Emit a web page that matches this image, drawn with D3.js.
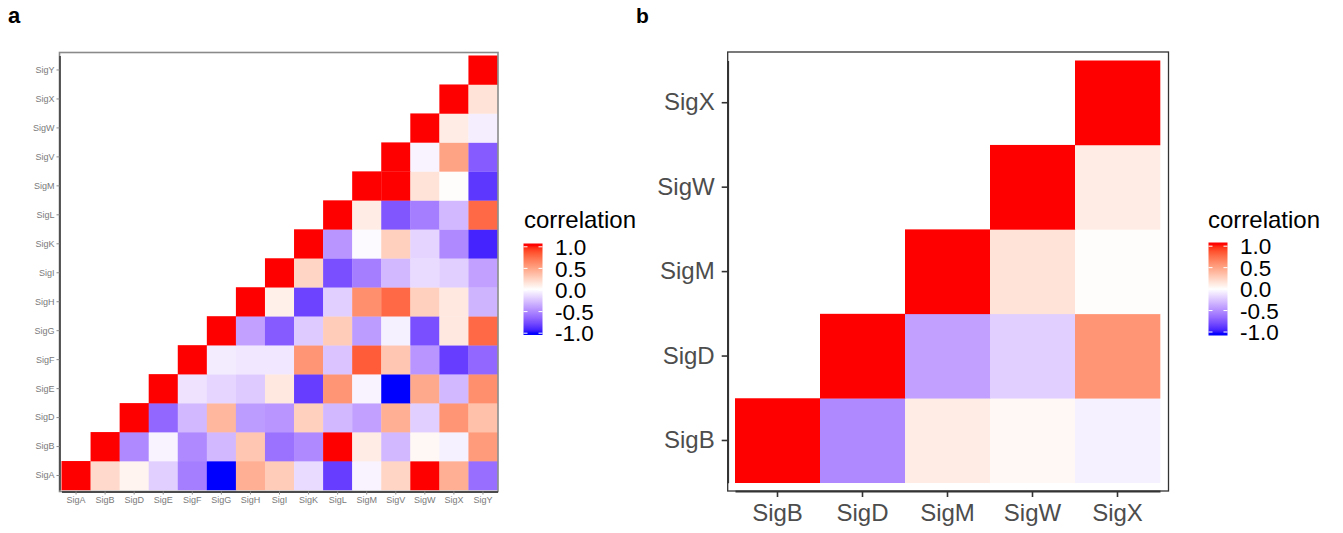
<!DOCTYPE html>
<html><head><meta charset="utf-8">
<script src="https://cdn.jsdelivr.net/npm/d3@7"></script>
<style>body{margin:0;background:#fff}svg{display:block;font-family:"Liberation Sans",Arial,sans-serif}</style>
</head><body>
<svg id="chart" width="1343" height="533"></svg>
<script>
// Signatures (panel a order, bottom-to-top / left-to-right)
const signatures = ["SigA","SigB","SigD","SigE","SigF","SigG","SigH","SigI","SigK","SigL","SigM","SigV","SigW","SigX","SigY"];
// Upper-triangle correlation rows: each starts at its own diagonal
const corrSigA = [1, 0.2, 0.06, -0.2, -0.55, -1.0, 0.42, 0.27, -0.15, -0.82, -0.05, 0.22, 1.0, 0.42, -0.62];
const corrSigB = [1, -0.5, -0.05, -0.5, -0.3, 0.3, -0.6, -0.5, 1.0, 0.1, -0.3, 0.04, -0.06, 0.52];
const corrSigD = [1, -0.65, -0.3, 0.38, -0.42, -0.45, 0.25, -0.3, -0.4, 0.42, -0.2, 0.55, 0.33];
const corrSigE = [1, -0.12, -0.17, -0.22, 0.12, -0.82, 0.55, -0.05, -1.0, 0.45, -0.3, 0.58];
const corrSigF = [1, -0.08, -0.1, -0.1, 0.55, -0.25, 0.8, 0.3, -0.45, -0.82, -0.65];
const corrSigG = [1, -0.4, -0.7, -0.22, 0.27, -0.42, -0.06, -0.75, 0.12, 0.75];
const corrSigH = [1, 0.08, -0.8, -0.2, 0.58, 0.75, 0.25, 0.12, -0.32];
const corrSigI = [1, 0.22, -0.75, -0.55, -0.3, -0.15, -0.2, -0.4];
const corrSigK = [1, -0.45, -0.02, 0.25, -0.18, -0.5, -0.92];
const corrSigL = [1, 0.1, -0.72, -0.55, -0.3, 0.75];
const corrSigM = [1, 1.0, 0.15, 0.01, -0.85];
const corrSigV = [1, -0.05, 0.48, -0.7];
const corrSigW = [1, 0.1, -0.07];
const corrSigX = [1, 0.15];
const corrSigY = [1];
// Panel b subset
const subsetSigs = ["SigB","SigD","SigM","SigW","SigX"];
// Legend breaks
const legendBreaks = [1.0, 0.5, 0.0, -0.5, -1.0];
const legendTitle = "correlation";

const rows = [corrSigA,corrSigB,corrSigD,corrSigE,corrSigF,corrSigG,corrSigH,corrSigI,corrSigK,corrSigL,corrSigM,corrSigV,corrSigW,corrSigX,corrSigY];
function corr(a, b) {
  let i = signatures.indexOf(a), j = signatures.indexOf(b);
  if (j < i) [i, j] = [j, i];
  return rows[i][j - i];
}
function cellsFor(sigs) {
  const out = [];
  sigs.forEach((r, i) => sigs.forEach((c, j) => { if (j >= i) out.push({row: r, col: c, v: corr(r, c)}); }));
  return out;
}

const color = d3.scaleLinear().domain([-1, 0, 1]).range(["#0000FF", "#FFFFFF", "#FF0000"]).interpolate(d3.interpolateLab);
const svg = d3.select("#chart");
const defs = svg.append("defs");
const grad = defs.append("linearGradient").attr("id", "cbar").attr("x1", 0).attr("y1", 1).attr("x2", 0).attr("y2", 0);
d3.range(0, 1.0001, 0.02).forEach(t => grad.append("stop").attr("offset", t).attr("stop-color", color(-1.04 + 2.08 * t)));

function panel(opt) {
  const g = svg.append("g");
  const x = d3.scaleBand().domain(opt.sigs).range(opt.xr).padding(0);
  const y = d3.scaleBand().domain(opt.sigs.slice().reverse()).range(opt.yr).padding(0);
  g.selectAll("rect.cell").data(cellsFor(opt.sigs)).join("rect")
    .attr("class", "cell")
    .attr("x", d => x(d.col)).attr("y", d => y(d.row))
    .attr("width", x.bandwidth() + 0.3).attr("height", y.bandwidth() + 0.3)
    .attr("fill", d => color(d.v));
  // border
  g.append("rect").attr("x", opt.box[0]).attr("y", opt.box[1])
    .attr("width", opt.box[2] - opt.box[0]).attr("height", opt.box[3] - opt.box[1])
    .attr("fill", "none").attr("stroke", opt.borderColor).attr("stroke-width", opt.borderW);
  const ax = g.append("g").attr("transform", `translate(${opt.box[0]},0)`)
    .call(d3.axisLeft(y).tickSize(opt.tick).tickPadding(opt.pad).tickSizeOuter(0));
  const bx = g.append("g").attr("transform", `translate(0,${opt.box[3]})`)
    .call(d3.axisBottom(x).tickSize(opt.tick).tickPadding(opt.pad).tickSizeOuter(0));
  [ax, bx].forEach(a => {
    a.select(".domain").attr("stroke", opt.axisColor).attr("stroke-width", opt.axisW);
    a.selectAll(".tick line").attr("stroke", opt.tickColor).attr("stroke-width", opt.tickW);
    a.selectAll(".tick text").attr("fill", opt.textColor).style("font-size", opt.fs + "px").style("font-family", '"Liberation Sans",Arial,sans-serif');
  });
}

function legend(x0, yTop, yBot, t1, t0, labelX, titleX) {
  const g = svg.append("g");
  g.append("text").attr("x", titleX).attr("y", 228).text(legendTitle)
    .style("font-size", "24px").attr("fill", "#000");
  g.append("rect").attr("x", x0).attr("y", yTop).attr("width", 19).attr("height", yBot - yTop).attr("fill", "url(#cbar)");
  const s = d3.scaleLinear().domain([1, -1]).range([t1, t0]);
  legendBreaks.forEach(b => {
    g.append("line").attr("x1", x0).attr("x2", x0 + 4).attr("y1", s(b)).attr("y2", s(b)).attr("stroke", "#fff").attr("stroke-width", 1);
    g.append("line").attr("x1", x0 + 15).attr("x2", x0 + 19).attr("y1", s(b)).attr("y2", s(b)).attr("stroke", "#fff").attr("stroke-width", 1);
    g.append("text").attr("x", labelX).attr("y", s(b)).attr("dy", "0.36em").text(b.toFixed(1))
      .style("font-size", "22.5px").attr("fill", "#000");
  });
}

// Panel a
panel({sigs: signatures, xr: [61.5, 497.5], yr: [55.5, 490], box: [59.5, 52.5, 498, 491.5],
  borderColor: "#8a8a8a", borderW: 1.6, axisColor: "#4a4a4a", axisW: 1.8, tick: 3, pad: 2,
  tickColor: "#8a8a8a", tickW: 1, textColor: "#7a7a7a", fs: 9});
legend(523.5, 243.5, 335, 246.8, 333.2, 555, 524);

// Panel b
panel({sigs: subsetSigs, xr: [735, 1160], yr: [60.5, 482.7], box: [727.7, 52, 1168.5, 491],
  borderColor: "#333", borderW: 1.3, axisColor: "#333", axisW: 1.8, tick: 6, pad: 7,
  tickColor: "#333", tickW: 1.6, textColor: "#4D4D4D", fs: 24});
legend(1208.5, 242.5, 335.5, 246.2, 332, 1240, 1208);

// Panel tags
svg.append("text").attr("x", 8).attr("y", 23).text("a").style("font-size", "22px").style("font-weight", "bold");
svg.append("text").attr("x", 636).attr("y", 23).text("b").style("font-size", "21px").style("font-weight", "bold");
</script>
</body></html>
